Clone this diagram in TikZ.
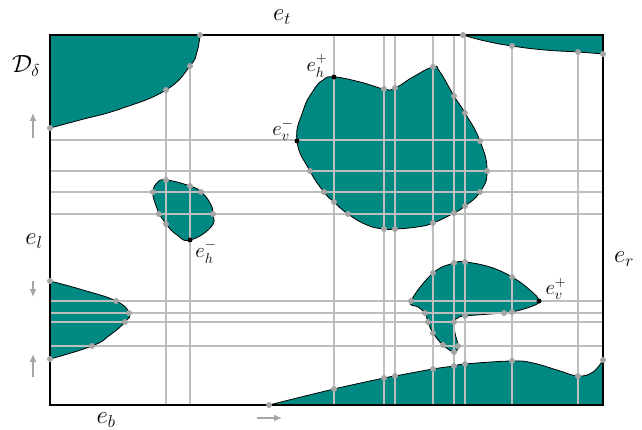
\documentclass[tikz,border=0pt]{standalone}
\usepackage{amsmath,amssymb}
\usepackage{xcolor}
\usetikzlibrary{arrows.meta}
\definecolor{obstfill}{RGB}{0,137,131}
\definecolor{gridgray}{RGB}{190,190,190}
\definecolor{dotgray}{RGB}{165,165,165}
\tikzset{
    obstacle/.style={fill=obstfill, draw=black, line width=0.8pt},
    gridline/.style={draw=gridgray, line width=1.1pt},
    frame/.style={draw=black, line width=1.4pt},
    gdot/.style={circle, fill=dotgray, inner sep=0pt, minimum size=6pt},
    bdot/.style={circle, fill=black, inner sep=0pt, minimum size=5pt},
    biglabel/.style={font=\fontsize{23}{27}\selectfont, inner sep=0pt},
    smalllabel/.style={font=\fontsize{20}{24}\selectfont, inner sep=0pt},
    dirarrow/.style={draw=dotgray, line width=1.3pt, -{Latex[length=8pt,width=7pt]}}
}

\begin{document}
\begin{tikzpicture}[x=1pt, y=-1pt]
    \useasboundingbox (0,0) rectangle (642,430);

    % Obstacles
    \path[obstacle] (50,35) -- (200,35) -- plot[smooth, tension=0.8] coordinates {(200,35) (197,52) (190,66) (166,90) (120,109) (80,120) (50,128)} -- cycle;
    \path[obstacle] (463,35) -- plot[smooth, tension=0.8] coordinates {(463,35) (485,41) (512,46) (545,50) (578,52) (603,54)} -- (603,35) -- cycle;
    \path[obstacle] plot[smooth cycle, tension=0.85] coordinates {(334,77) (360,82) (384,89) (395,88) (413,77) (433,67) (440,72) (454,96) (465,113) (480,141) (487,171) (480,192) (465,206) (454,213) (433,223) (417,227) (395,229) (384,229) (367,225) (348,214) (334,202) (324,192) (310,171) (297,141) (303,111) (313,91) (323,80)};
    \path[obstacle] plot[smooth cycle, tension=0.85] coordinates {(166,180) (190,186) (201,192) (210,203) (213,214) (211,227) (190,240) (177,235) (166,224) (159,214) (155,203) (153,192) (157,183)};
    \path[obstacle] plot[smooth cycle, tension=0.7] coordinates {(411,301) (433,273) (454,263) (465,262) (490,267) (512,277) (530,290) (539,301) (530,307) (512,312) (504,313) (465,316) (458,318) (454,322) (455,333) (458,346) (454,352) (443,345) (433,333) (428,322) (425,313) (418,307)};
    \path[obstacle] (50,281) -- plot[smooth, tension=0.8] coordinates {(50,281) (83,290) (116,301) (129,313) (125,322) (110,335) (92,346) (50,359)} -- cycle;
    \path[obstacle] (269,405) -- plot[smooth, tension=0.7] coordinates {(269,405) (334,389) (384,378) (395,376) (433,369) (454,366) (465,364) (512,361) (533,363) (557,370) (578,376) (593,372) (603,360)} -- (603,405) -- cycle;

    % Sweep lines
    \foreach \x/\ys in {166/90, 190/66, 334/35, 384/35, 395/35, 433/35, 454/35, 465/35, 512/46, 578/52}
        \draw[gridline] (\x,\ys) -- (\x,405);
    \foreach \y in {140,171,192,214,301,313,322,346}
        \draw[gridline] (50,\y) -- (603,\y);

    \draw[frame] (50,35) rectangle (603,405);

    % Contact points
    \foreach \p [count=\i] in {(200,35), (190,66), (166,90), (50,128),
        (463,35), (512,46), (578,52), (603,54),
        (384,89), (395,88), (433,67), (454,96), (465,113), (480,141), (487,171), (480,192), (465,206), (454,213), (433,223), (395,229), (384,229), (348,214), (334,202), (324,192), (310,171),
        (166,180), (190,186), (201,192), (213,214), (153,192), (159,214), (166,224),
        (433,273), (454,263), (465,262), (512,277), (512,312), (504,313), (465,316), (454,322), (458,346), (454,352), (443,345), (433,333), (428,322), (425,313), (411,301),
        (50,281), (116,301), (129,313), (125,322), (92,346), (50,359),
        (269,405), (334,389), (384,378), (395,376), (433,369), (454,366), (465,364), (512,361), (578,376), (603,360)}
        \node[gdot] (pt\i) at \p {};
    \node[bdot] (ehplus) at (334,77) {};
    \node[bdot] (evminus) at (297,141) {};
    \node[bdot] (ehminus) at (190,240) {};
    \node[bdot] (evplus) at (539,301) {};

    % Labels
    \node[biglabel] (lbltop) at (282,17) {$e_t$};
    \node[biglabel, font=\fontsize{26}{30}\selectfont] (lblD) at (26,66) {$\mathcal{D}_\delta$};
    \node[biglabel] (lblleft) at (34,241) {$e_l$};
    \node[biglabel] (lblright) at (624,259) {$e_r$};
    \node[biglabel] (lblbottom) at (106,420) {$e_b$};
    \node[smalllabel] (lblehp) at (317,66) {$e_h^+$};
    \node[smalllabel] (lblevm) at (283,130) {$e_v^-$};
    \node[smalllabel] (lblehm) at (206,252) {$e_h^-$};
    \node[smalllabel] (lblevp) at (556,289) {$e_v^+$};

    % Sweep directions
    \coordinate (upAs) at (33,138);
    \coordinate (upAe) at (33,113);
    \coordinate (downs) at (33,281);
    \coordinate (downe) at (33,297);
    \coordinate (upBs) at (33,377);
    \coordinate (upBe) at (33,354);
    \coordinate (rights) at (257,418);
    \coordinate (righte) at (282,418);
    \draw[dirarrow] (upAs) -- (upAe);
    \draw[dirarrow] (downs) -- (downe);
    \draw[dirarrow] (upBs) -- (upBe);
    \draw[dirarrow] (rights) -- (righte);
\end{tikzpicture}
\end{document}
